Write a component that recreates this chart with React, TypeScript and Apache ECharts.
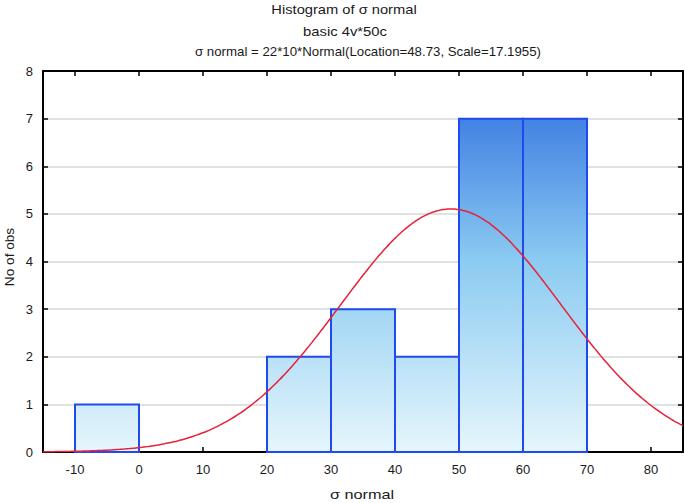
import React, { useEffect, useRef } from "react";
import * as echarts from "echarts";

const binStarts = [-10, 0, 10, 20, 30, 40, 50, 60];
const binCounts = [1, 0, 0, 2, 3, 2, 7, 7];
const BIN_WIDTH = 10;
const N_OBS = 22;
const LOCATION = 48.73;
const SCALE = 17.1955;
const xTicks = [-10, 0, 10, 20, 30, 40, 50, 60, 70, 80];
const titleLines = [
  "Histogram of σ normal",
  "basic 4v*50c",
  "σ normal = 22*10*Normal(Location=48.73, Scale=17.1955)",
];
const xName = "σ normal";
const yName = "No of obs";

const FONT = "'Liberation Sans', Arial, sans-serif";

export default function App() {
  const ref = useRef<HTMLDivElement>(null);
  useEffect(() => {
    if (!ref.current) return;
    const chart = echarts.init(ref.current, undefined, { renderer: "svg" });
    const bins = binStarts
      .map((s, i) => [s, s + BIN_WIDTH, binCounts[i]])
      .filter((d) => d[2] > 0);
    const curve: number[][] = [];
    for (let x = -15; x <= 85.001; x += 0.5) {
      const z = (x - LOCATION) / SCALE;
      const y = (N_OBS * BIN_WIDTH * Math.exp(-0.5 * z * z)) / (SCALE * Math.sqrt(2 * Math.PI));
      curve.push([x, y]);
    }
    const grad = new echarts.graphic.LinearGradient(
      0, 71, 0, 452,
      [
        { offset: 0, color: "#2a6ade" },
        { offset: 0.5, color: "#8ccbf1" },
        { offset: 1, color: "#e6f6fc" },
      ],
      true
    );
    const axisLabelStyle = { color: "#1a1a1a", fontSize: 13, fontFamily: FONT };
    const txt = (text: string, x: number, y: number, sx: number, rot = 0) => ({
      type: "text",
      x,
      y,
      rotation: rot,
      scaleX: sx,
      style: {
        text,
        fill: "#1a1a1a",
        font: `13px ${FONT}`,
        textAlign: "center",
        textVerticalAlign: "middle",
      },
    });
    chart.setOption({
      animation: false,
      backgroundColor: "#fff",
      grid: { left: 43, right: 2, top: 71, bottom: 51, outerBoundsMode: "none", containLabel: false },
      xAxis: [
        {
          type: "value",
          min: -15,
          max: 85,
          position: "bottom",
          axisLine: { show: true, onZero: false, lineStyle: { color: "#000", width: 2 } },
          axisTick: { show: true, inside: true, length: 5, customValues: xTicks, lineStyle: { color: "#000", width: 1.5 } },
          axisLabel: { ...axisLabelStyle, margin: 11, customValues: xTicks },
          splitLine: { show: false },
        },
        {
          type: "value",
          min: -15,
          max: 85,
          position: "top",
          axisLine: { show: true, onZero: false, lineStyle: { color: "#000", width: 2 } },
          axisTick: { show: true, inside: true, length: 5, customValues: xTicks, lineStyle: { color: "#000", width: 1.5 } },
          axisLabel: { show: false },
          splitLine: { show: false },
        },
      ],
      yAxis: [
        {
          type: "value",
          min: 0,
          max: 8,
          interval: 1,
          position: "left",
          axisLine: { show: true, onZero: false, lineStyle: { color: "#000", width: 2 } },
          axisTick: { show: true, inside: true, length: 5, lineStyle: { color: "#000", width: 1.5 } },
          axisLabel: { ...axisLabelStyle, margin: 10 },
          splitLine: { show: true, lineStyle: { color: "#d6d9d9", width: 1.5 } },
        },
        {
          type: "value",
          min: 0,
          max: 8,
          interval: 1,
          position: "right",
          axisLine: { show: true, onZero: false, lineStyle: { color: "#000", width: 2 } },
          axisTick: { show: true, inside: true, length: 5, lineStyle: { color: "#000", width: 1.5 } },
          axisLabel: { show: false },
          splitLine: { show: false },
        },
      ],
      graphic: [
        txt(titleLines[0], 344, 9, 1.13),
        txt(titleLines[1], 345, 31, 1.14),
        txt(titleLines[2], 368, 52, 1.02),
        txt(xName, 362, 495, 1.25),
        txt(yName, 10, 257, 1.05, Math.PI / 2),
      ],
      series: [
        {
          type: "custom",
          xAxisIndex: 0,
          yAxisIndex: 0,
          data: bins,
          renderItem: (params: any, api: any) => {
            const p0 = api.coord([api.value(0), api.value(2)]);
            const p1 = api.coord([api.value(1), 0]);
            return {
              type: "rect",
              shape: { x: p0[0], y: p0[1], width: p1[0] - p0[0], height: p1[1] - p0[1] },
              style: { fill: grad, stroke: "#1f4af0", lineWidth: 2 },
            };
          },
          z: 2,
        },
        {
          type: "line",
          xAxisIndex: 0,
          yAxisIndex: 0,
          data: curve,
          showSymbol: false,
          smooth: true,
          lineStyle: { color: "#e8203a", width: 1.5 },
          z: 3,
        },
      ],
    });
    return () => chart.dispose();
  }, []);
  return <div ref={ref} style={{ width: 685, height: 503, position: "absolute", left: 0, top: 0 }} />;
}
